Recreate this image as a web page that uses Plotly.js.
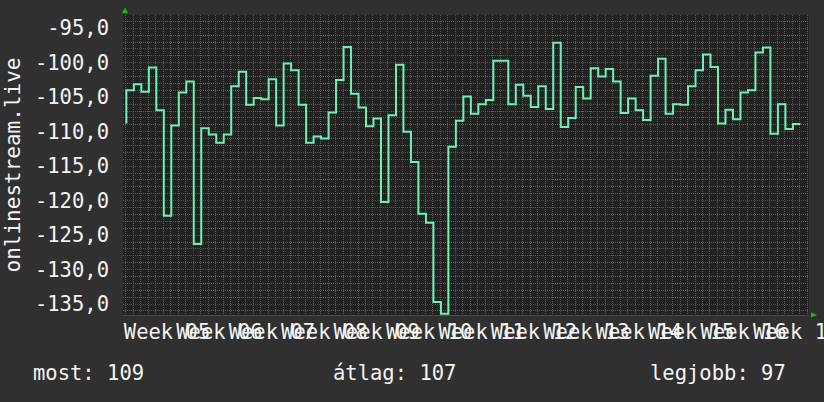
<!DOCTYPE html>
<html>
<head>
<meta charset="utf-8">
<script src="https://cdn.plot.ly/plotly-3.0.1.min.js"></script>
<style>
  html, body { margin: 0; padding: 0; background: #303030; }
  #chart { width: 824px; height: 402px; }
</style>
</head>
<body>
<div id="chart"></div>
<script>
"use strict";

// daily samples, oldest first (dBm)
var SIGNAL_VALUES = [
  -108.8, -104.0, -103.1, -104.2, -100.7, -106.9, -122.2, -109.1, -104.3, -102.7,
  -126.3, -109.5, -110.4, -111.6, -110.4, -103.4, -101.3, -106.1, -105.1, -105.3,
  -102.4, -109.1, -100.1, -101.1, -106.1, -111.6, -110.7, -111.0, -107.2, -102.5,
  -97.7, -104.5, -106.5, -109.2, -108.1, -120.2, -107.6, -100.3, -110.0, -114.4,
  -121.9, -123.2, -134.7, -136.4, -112.2, -108.4, -104.9, -107.4, -106.0, -105.4,
  -99.7, -99.7, -106.0, -103.2, -104.8, -106.4, -103.4, -106.7, -97.1, -109.3,
  -108.0, -103.5, -105.2, -100.8, -102.0, -100.9, -102.7, -107.3, -105.2, -106.9,
  -108.3, -101.9, -99.4, -107.4, -106.0, -106.1, -103.4, -101.1, -98.8, -100.6,
  -108.8, -106.8, -108.2, -104.3, -104.0, -98.5, -97.8, -110.3, -106.0, -109.6,
  -108.9
];

var WEEK_LABELS = [
  "Week 05", "Week 06", "Week 07", "Week 08", "Week 09", "Week 10", "Week 11",
  "Week 12", "Week 13", "Week 14", "Week 15", "Week 16", "Week 17"
];

var Y_TICK_VALUES = [-95, -100, -105, -110, -115, -120, -125, -130, -135];
var Y_TICK_LABELS = ["-95,0", "-100,0", "-105,0", "-110,0", "-115,0", "-120,0", "-125,0", "-130,0", "-135,0"];

var LEGEND_LABELS = ["most:", "átlag:", "legjobb:"];
var LEGEND_VALUES = [109, 107, 97];

var FIRST_SAMPLE_DAY = 0.45;   // end of first sample interval, in days from the left edge
var FIRST_WEEK_DAY = 2.38;     // first week boundary
var X_RANGE = [0, 91.6];
var Y_RANGE = [-136.59, -93.07];

var FONT = '"DejaVu Sans Mono", "Liberation Mono", monospace';
var LINE_COLOR = "#6ef0b4";
var TEXT_COLOR = "#f4f4f4";
var MAJOR_GRID = "#8c3535";
var MINOR_GRID = "#5a5a5a";

var days = SIGNAL_VALUES.map(function (v, i) {
  return FIRST_SAMPLE_DAY + i;
});

// labels sit in the middle of each week
var weekCenters = WEEK_LABELS.map(function (label, i) {
  return FIRST_WEEK_DAY + 3.5 + 7 * i;
});

var traces = [
  {
    type: "scatter",
    mode: "lines",
    x: days,
    y: SIGNAL_VALUES,
    line: { color: LINE_COLOR, width: 2, shape: "vh" },
    hoverinfo: "skip",
    showlegend: false
  },
  {
    // carries the week label axis
    type: "scatter",
    mode: "lines",
    x: days,
    y: SIGNAL_VALUES,
    xaxis: "x2",
    line: { color: "rgba(0,0,0,0)", width: 0 },
    hoverinfo: "skip",
    showlegend: false
  }
];

var legendAnnotations = [31, 331, 648].map(function (px, i) {
  return {
    xref: "paper",
    yref: "paper",
    x: (px - 123) / 686,
    y: -0.193,
    xanchor: "left",
    yanchor: "middle",
    showarrow: false,
    text: LEGEND_LABELS[i] + " " + LEGEND_VALUES[i],
    font: { family: FONT, size: 20.5, color: TEXT_COLOR }
  };
});

var layout = {
  width: 824,
  height: 402,
  margin: { l: 123, r: 15, t: 15, b: 87, pad: 0 },
  paper_bgcolor: "#303030",
  plot_bgcolor: "#222222",
  font: { family: FONT, size: 20.5, color: TEXT_COLOR },
  showlegend: false,
  xaxis: {
    range: X_RANGE,
    tickmode: "linear",
    tick0: FIRST_WEEK_DAY,
    dtick: 7,
    showticklabels: false,
    ticks: "",
    showgrid: true,
    gridcolor: MAJOR_GRID,
    griddash: "1px,1px",
    gridwidth: 1,
    zeroline: false,
    showline: true,
    linecolor: "#4c4c4c",
    linewidth: 1,
    minor: {
      tickmode: "linear",
      tick0: FIRST_WEEK_DAY,
      dtick: 1,
      showgrid: true,
      gridcolor: MINOR_GRID,
      griddash: "1px,1px",
      gridwidth: 1,
      ticks: ""
    },
    fixedrange: true
  },
  xaxis2: {
    overlaying: "x",
    anchor: "y",
    side: "bottom",
    range: X_RANGE,
    tickmode: "array",
    tickvals: weekCenters,
    ticktext: WEEK_LABELS,
    tickangle: 0,
    ticks: "",
    ticklabelstandoff: 2,
    ticklabeloverflow: "allow",
    tickfont: { family: FONT, size: 20.5, color: TEXT_COLOR },
    showgrid: false,
    zeroline: false,
    showline: false,
    fixedrange: true
  },
  yaxis: {
    range: Y_RANGE,
    tickmode: "array",
    tickvals: Y_TICK_VALUES,
    ticktext: Y_TICK_LABELS,
    ticks: "",
    ticklabelstandoff: 13,
    tickfont: { family: FONT, size: 20.5, color: TEXT_COLOR },
    showgrid: true,
    gridcolor: MAJOR_GRID,
    griddash: "1px,1px",
    gridwidth: 1,
    zeroline: false,
    showline: false,
    automargin: false,
    minor: {
      tickmode: "linear",
      tick0: -95,
      dtick: 1,
      showgrid: true,
      gridcolor: MINOR_GRID,
      griddash: "1px,1px",
      gridwidth: 1,
      ticks: ""
    },
    title: {
      text: "onlinestream.live",
      font: { family: FONT, size: 21, color: TEXT_COLOR },
      standoff: 8
    },
    fixedrange: true
  },
  shapes: [
    {
      // rrd style axis arrow, top of y axis
      type: "path",
      xref: "paper",
      yref: "paper",
      xsizemode: "pixel",
      ysizemode: "pixel",
      xanchor: 0,
      yanchor: 1,
      path: "M -1,2 L 5,2 L 2,7.5 Z",
      fillcolor: "#00cc00",
      line: { width: 0 }
    },
    {
      // arrow at right end of x axis
      type: "path",
      xref: "paper",
      yref: "paper",
      xsizemode: "pixel",
      ysizemode: "pixel",
      xanchor: 1,
      yanchor: 0,
      path: "M 2,-2.6 L 2,2.6 L 8,0 Z",
      fillcolor: "#00cc00",
      line: { width: 0 }
    }
  ],
  annotations: legendAnnotations
};

Plotly.newPlot("chart", traces, layout, {
  displayModeBar: false,
  staticPlot: true,
  responsive: false
});
</script>
</body>
</html>
